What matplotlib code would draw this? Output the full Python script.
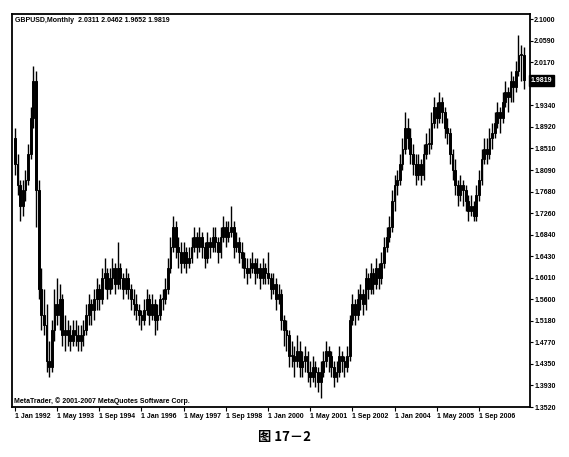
import numpy as np
import pandas as pd
import matplotlib
matplotlib.use('Agg')
import matplotlib.pyplot as plt
import matplotlib.transforms as mtransforms

# monthly GBPUSD bars, starting Jan 1992
opens = [1.87, 1.82, 1.78, 1.74, 1.77, 1.79, 1.84, 1.91, 1.98, 1.77,
         1.58, 1.53, 1.51, 1.44, 1.43, 1.50, 1.55, 1.53, 1.56, 1.49,
         1.50, 1.49, 1.48, 1.50, 1.49, 1.48, 1.49, 1.50, 1.53, 1.55,
         1.54, 1.56, 1.58, 1.56, 1.60, 1.61, 1.58, 1.60, 1.62, 1.59,
         1.62, 1.60, 1.58, 1.60, 1.58, 1.56, 1.55, 1.54, 1.53, 1.52,
         1.54, 1.56, 1.53, 1.55, 1.52, 1.53, 1.56, 1.56, 1.58, 1.62,
         1.66, 1.70, 1.66, 1.65, 1.63, 1.65, 1.63, 1.64, 1.66, 1.68,
         1.66, 1.68, 1.66, 1.64, 1.67, 1.66, 1.68, 1.67, 1.65, 1.68,
         1.70, 1.68, 1.69, 1.70, 1.66, 1.67, 1.65, 1.64, 1.62, 1.61,
         1.62, 1.63, 1.61, 1.62, 1.60, 1.62, 1.61, 1.60, 1.58, 1.59,
         1.56, 1.57, 1.52, 1.50, 1.49, 1.45, 1.45, 1.44, 1.46, 1.43,
         1.44, 1.45, 1.42, 1.41, 1.43, 1.42, 1.40, 1.42, 1.44, 1.46,
         1.45, 1.43, 1.41, 1.42, 1.45, 1.44, 1.43, 1.45, 1.52, 1.55,
         1.53, 1.56, 1.57, 1.55, 1.60, 1.58, 1.61, 1.59, 1.62, 1.60,
         1.63, 1.66, 1.68, 1.70, 1.75, 1.78, 1.79, 1.82, 1.85, 1.89,
         1.87, 1.84, 1.82, 1.80, 1.82, 1.80, 1.84, 1.86, 1.86, 1.90,
         1.93, 1.91, 1.94, 1.92, 1.89, 1.88, 1.84, 1.81, 1.78, 1.76,
         1.78, 1.77, 1.75, 1.73, 1.74, 1.72, 1.76, 1.79, 1.83, 1.85,
         1.84, 1.87, 1.88, 1.90, 1.92, 1.91, 1.94, 1.96, 1.95, 1.98,
         1.97, 2.00, 2.03, 2.0311]
highs = [1.89, 1.84, 1.79, 1.79, 1.81, 1.86, 1.93, 2.01, 2.00, 1.79,
         1.62, 1.58, 1.55, 1.48, 1.52, 1.58, 1.60, 1.59, 1.57, 1.53,
         1.52, 1.51, 1.52, 1.52, 1.51, 1.51, 1.52, 1.55, 1.57, 1.56,
         1.58, 1.60, 1.59, 1.62, 1.64, 1.62, 1.62, 1.64, 1.63, 1.67,
         1.63, 1.61, 1.62, 1.61, 1.59, 1.58, 1.57, 1.55, 1.54, 1.56,
         1.58, 1.57, 1.57, 1.56, 1.55, 1.57, 1.58, 1.60, 1.64, 1.68,
         1.72, 1.71, 1.68, 1.67, 1.67, 1.66, 1.66, 1.68, 1.70, 1.69,
         1.70, 1.69, 1.67, 1.69, 1.68, 1.70, 1.70, 1.68, 1.70, 1.72,
         1.71, 1.71, 1.74, 1.71, 1.69, 1.68, 1.67, 1.65, 1.64, 1.64,
         1.65, 1.64, 1.64, 1.63, 1.64, 1.63, 1.65, 1.61, 1.61, 1.60,
         1.59, 1.58, 1.53, 1.52, 1.50, 1.48, 1.47, 1.49, 1.48, 1.46,
         1.47, 1.46, 1.44, 1.45, 1.44, 1.43, 1.44, 1.46, 1.48, 1.47,
         1.46, 1.44, 1.44, 1.47, 1.46, 1.45, 1.47, 1.53, 1.57, 1.56,
         1.58, 1.59, 1.58, 1.62, 1.61, 1.63, 1.62, 1.64, 1.63, 1.65,
         1.68, 1.70, 1.72, 1.77, 1.80, 1.81, 1.84, 1.87, 1.92, 1.91,
         1.89, 1.86, 1.84, 1.84, 1.83, 1.86, 1.88, 1.89, 1.92, 1.95,
         1.94, 1.96, 1.95, 1.93, 1.91, 1.89, 1.85, 1.83, 1.79, 1.80,
         1.79, 1.78, 1.76, 1.76, 1.75, 1.78, 1.81, 1.85, 1.87, 1.87,
         1.89, 1.90, 1.92, 1.94, 1.93, 1.96, 1.98, 1.97, 2.00, 1.99,
         2.02, 2.07, 2.05, 2.0462]
lows = [1.80, 1.76, 1.71, 1.72, 1.75, 1.78, 1.83, 1.89, 1.70, 1.56,
        1.50, 1.49, 1.42, 1.41, 1.42, 1.48, 1.51, 1.50, 1.47, 1.46,
        1.47, 1.46, 1.47, 1.47, 1.46, 1.46, 1.47, 1.49, 1.51, 1.51,
        1.52, 1.54, 1.54, 1.55, 1.58, 1.56, 1.57, 1.58, 1.57, 1.58,
        1.58, 1.56, 1.57, 1.56, 1.54, 1.53, 1.52, 1.51, 1.50, 1.51,
        1.53, 1.51, 1.52, 1.49, 1.50, 1.52, 1.54, 1.55, 1.57, 1.61,
        1.65, 1.64, 1.62, 1.61, 1.62, 1.61, 1.62, 1.63, 1.65, 1.64,
        1.65, 1.64, 1.62, 1.63, 1.64, 1.65, 1.65, 1.63, 1.64, 1.67,
        1.66, 1.67, 1.68, 1.64, 1.65, 1.63, 1.62, 1.60, 1.59, 1.60,
        1.61, 1.59, 1.60, 1.58, 1.59, 1.59, 1.59, 1.56, 1.57, 1.54,
        1.55, 1.50, 1.47, 1.46, 1.43, 1.43, 1.41, 1.43, 1.41, 1.41,
        1.42, 1.40, 1.39, 1.40, 1.39, 1.38, 1.37, 1.41, 1.43, 1.42,
        1.41, 1.39, 1.40, 1.41, 1.42, 1.41, 1.42, 1.44, 1.51, 1.51,
        1.52, 1.54, 1.53, 1.54, 1.56, 1.57, 1.57, 1.58, 1.58, 1.59,
        1.62, 1.65, 1.67, 1.69, 1.73, 1.76, 1.78, 1.81, 1.84, 1.85,
        1.82, 1.80, 1.78, 1.79, 1.78, 1.79, 1.83, 1.84, 1.85, 1.89,
        1.89, 1.90, 1.90, 1.87, 1.86, 1.82, 1.79, 1.76, 1.74, 1.75,
        1.74, 1.73, 1.71, 1.72, 1.71, 1.71, 1.75, 1.78, 1.82, 1.82,
        1.83, 1.85, 1.87, 1.89, 1.88, 1.90, 1.93, 1.92, 1.94, 1.94,
        1.96, 1.99, 1.98, 1.9652]
closes = [1.82, 1.78, 1.74, 1.77, 1.79, 1.84, 1.91, 1.98, 1.77, 1.58,
          1.53, 1.51, 1.44, 1.43, 1.50, 1.55, 1.53, 1.56, 1.49, 1.50,
          1.49, 1.48, 1.50, 1.49, 1.48, 1.49, 1.50, 1.53, 1.55, 1.54,
          1.56, 1.58, 1.56, 1.60, 1.61, 1.58, 1.60, 1.62, 1.59, 1.62,
          1.60, 1.58, 1.60, 1.58, 1.56, 1.55, 1.54, 1.53, 1.52, 1.54,
          1.56, 1.53, 1.55, 1.52, 1.53, 1.56, 1.56, 1.58, 1.62, 1.66,
          1.70, 1.66, 1.65, 1.63, 1.65, 1.63, 1.64, 1.66, 1.68, 1.66,
          1.68, 1.66, 1.64, 1.67, 1.66, 1.68, 1.67, 1.65, 1.68, 1.70,
          1.68, 1.69, 1.70, 1.66, 1.67, 1.65, 1.64, 1.62, 1.61, 1.62,
          1.63, 1.61, 1.62, 1.60, 1.62, 1.61, 1.60, 1.58, 1.59, 1.56,
          1.57, 1.52, 1.50, 1.49, 1.45, 1.45, 1.44, 1.46, 1.43, 1.44,
          1.45, 1.42, 1.41, 1.43, 1.42, 1.40, 1.42, 1.44, 1.46, 1.45,
          1.43, 1.41, 1.42, 1.45, 1.44, 1.43, 1.45, 1.52, 1.55, 1.53,
          1.56, 1.57, 1.55, 1.60, 1.58, 1.61, 1.59, 1.62, 1.60, 1.63,
          1.66, 1.68, 1.70, 1.75, 1.78, 1.79, 1.82, 1.85, 1.89, 1.87,
          1.84, 1.82, 1.80, 1.82, 1.80, 1.84, 1.86, 1.86, 1.90, 1.93,
          1.91, 1.94, 1.92, 1.89, 1.88, 1.84, 1.81, 1.78, 1.76, 1.78,
          1.77, 1.75, 1.73, 1.74, 1.72, 1.76, 1.79, 1.83, 1.85, 1.84,
          1.87, 1.88, 1.90, 1.92, 1.91, 1.94, 1.96, 1.95, 1.98, 1.97,
          2.00, 2.03, 2.03, 1.9819]

# price scale labels (the one under the current-price box is hidden)
price_labels = ['1.3520', '1.3930', '1.4350', '1.4770', '1.5180', '1.5600',
                '1.6010', '1.6430', '1.6840', '1.7260', '1.7680', '1.8090',
                '1.8510', '1.8920', '1.9340', '', '2.0170', '2.0590',
                '2.1000']
time_labels = ['1 Jan 1992', '1 May 1993', '1 Sep 1994', '1 Jan 1996',
               '1 May 1997', '1 Sep 1998', '1 Jan 2000', '1 May 2001',
               '1 Sep 2002', '1 Jan 2004', '1 May 2005', '1 Sep 2006']
title_text = 'GBPUSD,Monthly  2.0311 2.0462 1.9652 1.9819'
last_price = '1.9819'

dates = pd.date_range('1992-01-01', periods=len(closes), freq='MS')
x = np.arange(len(closes))
o = np.array(opens)
h = np.array(highs)
l = np.array(lows)
c = np.array(closes)

fig = plt.figure(figsize=(5.69, 4.57), dpi=100)
fig.patch.set_facecolor('white')
ax = fig.add_axes([0.0211, 0.1094, 0.9104, 0.8600])

# candles
ax.vlines(x, l, h, color='black', linewidth=1.0)
up = c >= o
bottoms = np.minimum(o, c)
heights = np.maximum(np.abs(c - o), 0.002)
ax.bar(x[up], heights[up], bottom=bottoms[up], width=0.7,
       facecolor='white', edgecolor='black', linewidth=0.7)
ax.bar(x[~up], heights[~up], bottom=bottoms[~up], width=0.7,
       facecolor='black', edgecolor='black', linewidth=0.7)

ymin = 1.352
step = 0.04155
ax.set_ylim(ymin, 2.110)
ax.set_xlim(-1.1, 195.4)

yt = [ymin + i * step for i in range(len(price_labels))]
ax.yaxis.tick_right()
ax.set_yticks(yt)
ax.set_yticklabels(price_labels, fontsize=5, fontweight='bold',
                   family='Liberation Sans')
ax.tick_params(axis='y', length=2, width=0.8, pad=1)

xt = x[::16][:len(time_labels)]
ax.set_xticks(xt)
ax.set_xticklabels(time_labels, fontsize=5, fontweight='bold',
                   family='Liberation Sans', ha='left')
ax.tick_params(axis='x', length=3, width=0.8, pad=1)

for s in ax.spines.values():
    s.set_linewidth(1.3)

ax.text(0.006, 0.992, title_text, transform=ax.transAxes, fontsize=5,
        fontweight='bold', family='Liberation Sans', va='top', ha='left')
ax.text(0.004, 0.006, 'MetaTrader, \u00a9 2001-2007 MetaQuotes Software Corp.',
        transform=ax.transAxes, fontsize=5, fontweight='bold',
        family='Liberation Sans', va='bottom', ha='left')

# current price marker on the price scale
trans = mtransforms.blended_transform_factory(ax.transAxes, ax.transData)
ax.text(1.002, float(last_price), last_price, transform=trans, fontsize=5,
        fontweight='bold', family='Liberation Sans', color='white',
        va='center', ha='left',
        bbox=dict(boxstyle='square,pad=0.25', facecolor='black',
                  edgecolor='black'))

fig.text(0.50, 0.043, '图 17－2', fontsize=9.5, fontweight='bold',
         family=['Noto Sans CJK SC', 'DejaVu Sans'], ha='center', va='center')

fig.savefig('out.png', dpi=100)
